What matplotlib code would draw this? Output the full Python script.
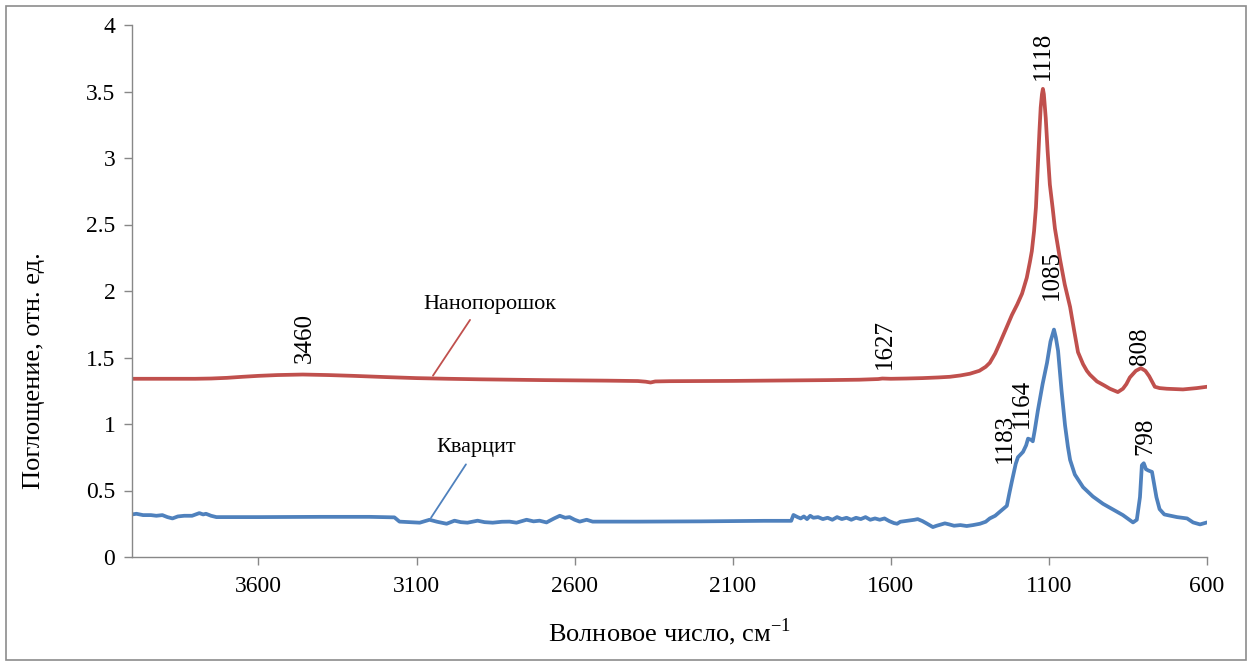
import matplotlib
matplotlib.use("Agg")
import matplotlib.pyplot as plt
from matplotlib.patches import Rectangle

plt.rcParams['font.family'] = ['Liberation Serif', 'DejaVu Serif']
plt.rcParams['mathtext.fontset'] = 'custom'
plt.rcParams['mathtext.rm'] = 'Liberation Serif'

# --- data -------------------------------------------------------------
nano_wn = [4000, 3900, 3800, 3750, 3700, 3650, 3600, 3540, 3460, 3380, 3300,
           3200, 3100, 3000, 2900, 2800, 2700, 2600, 2500, 2400, 2375, 2360,
           2345, 2300, 2200, 2100, 2000, 1900, 1800, 1700, 1640, 1627, 1600,
           1550, 1500, 1450, 1413, 1380, 1350, 1320, 1300, 1287, 1270, 1255,
           1235, 1217, 1200, 1185, 1170, 1160, 1154, 1147, 1141, 1135, 1130,
           1126, 1122, 1119, 1116, 1110, 1104, 1097, 1088, 1081, 1065, 1050,
           1033, 1020, 1008, 992, 980, 970, 948, 925, 907, 882, 866, 855,
           844, 825, 809, 795, 783, 774, 765, 750, 727, 676, 632, 600]
nano_ab = [1.340, 1.340, 1.340, 1.342, 1.347, 1.355, 1.362, 1.368, 1.372, 1.368,
           1.362, 1.353, 1.345, 1.340, 1.336, 1.333, 1.330, 1.328, 1.326, 1.323,
           1.318, 1.312, 1.320, 1.322, 1.323, 1.324, 1.326, 1.328, 1.330, 1.333,
           1.338, 1.342, 1.340, 1.342, 1.345, 1.350, 1.355, 1.365, 1.378, 1.40,
           1.43, 1.46, 1.53, 1.61, 1.72, 1.82, 1.90, 1.98, 2.10, 2.22, 2.30,
           2.45, 2.63, 2.94, 3.20, 3.38, 3.48, 3.52, 3.48, 3.30, 3.05, 2.80,
           2.62, 2.47, 2.24, 2.05, 1.88, 1.70, 1.54, 1.45, 1.40, 1.37, 1.32,
           1.29, 1.265, 1.24, 1.265, 1.30, 1.35, 1.40, 1.42, 1.40, 1.36, 1.32,
           1.28, 1.27, 1.265, 1.26, 1.27, 1.28]

quartz_wn = [4000, 3986, 3965, 3940, 3923, 3904, 3888, 3872, 3855, 3835, 3810,
             3787, 3775, 3766, 3750, 3733, 3600, 3400, 3250, 3170, 3154, 3120,
             3090, 3059, 3035, 3005, 2980, 2960, 2939, 2907, 2885, 2859, 2830,
             2806, 2784, 2752, 2730, 2711, 2689, 2665, 2647, 2630, 2616, 2600,
             2584, 2562, 2543, 2400, 2200, 2000, 1915, 1908, 1895, 1885, 1875,
             1865, 1855, 1845, 1830, 1815, 1800, 1785, 1770, 1755, 1740, 1725,
             1710, 1695, 1680, 1665, 1650, 1635, 1620, 1605, 1590, 1580, 1570,
             1555, 1540, 1525, 1515, 1500, 1485, 1467, 1455, 1440, 1429, 1415,
             1400, 1380, 1360, 1340, 1318, 1300, 1287, 1270, 1255, 1233, 1225,
             1217, 1205, 1198, 1182, 1172, 1166, 1155, 1151, 1145, 1135, 1120,
             1106, 1095, 1084, 1078, 1071, 1060, 1049, 1040, 1033, 1018, 992,
             961, 929, 885, 866, 834, 822, 812, 806, 800, 793, 785, 774, 768,
             760, 750, 735, 695, 663, 644, 622, 600]
quartz_ab = [0.320, 0.325, 0.315, 0.315, 0.310, 0.315, 0.300, 0.290, 0.305, 0.310,
             0.310, 0.330, 0.320, 0.325, 0.310, 0.300, 0.300, 0.302, 0.302, 0.298,
             0.266, 0.262, 0.258, 0.280, 0.265, 0.250, 0.273, 0.262, 0.258, 0.273,
             0.262, 0.258, 0.265, 0.266, 0.258, 0.280, 0.268, 0.273, 0.260, 0.290,
             0.310, 0.295, 0.300, 0.280, 0.266, 0.280, 0.266, 0.266, 0.268, 0.272,
             0.272, 0.316, 0.300, 0.290, 0.305, 0.285, 0.310, 0.295, 0.300, 0.285,
             0.295, 0.280, 0.300, 0.285, 0.295, 0.280, 0.295, 0.285, 0.300, 0.280,
             0.290, 0.280, 0.290, 0.270, 0.255, 0.250, 0.265, 0.270, 0.275, 0.280,
             0.285, 0.270, 0.250, 0.225, 0.235, 0.245, 0.253, 0.245, 0.235, 0.240,
             0.233, 0.240, 0.250, 0.265, 0.290, 0.310, 0.340, 0.385, 0.480,
             0.570, 0.700, 0.750, 0.790, 0.840, 0.890, 0.880, 0.870, 0.950, 1.100, 1.300,
             1.460, 1.620, 1.710, 1.650, 1.550, 1.250, 0.990, 0.830, 0.730, 0.620, 0.525,
             0.455, 0.400, 0.340, 0.315, 0.260, 0.280, 0.450, 0.690, 0.705, 0.660,
             0.650, 0.640, 0.560, 0.450, 0.360, 0.320, 0.300, 0.290, 0.260, 0.245,
             0.260]

x_ticks = [3600, 3100, 2600, 2100, 1600, 1100, 600]
y_ticks = [0, 0.5, 1, 1.5, 2, 2.5, 3, 3.5, 4]
y_tick_labels = ['0', '0.5', '1', '1.5', '2', '2.5', '3', '3.5', '4']

peak_labels = ['3460', '1627', '1118', '808', '1085', '1164', '1183', '798']
peak_text_x = [3454, 1619, 1119, 812, 1090, 1185, 1239, 796]
peak_text_y = [1.46, 1.41, 3.59, 1.44, 1.93, 0.97, 0.71, 0.77]

series_names = ['Нанопорошок', 'Кварцит']

# --- style ------------------------------------------------------------
RED = '#C0504D'
BLUE = '#4F81BD'
GRAY = '#888888'

fig = plt.figure(figsize=(12.52, 6.66), dpi=100)
fig.patches.append(Rectangle((6 / 1252, 1 - 660 / 666), 1240 / 1252, 654 / 666,
                             transform=fig.transFigure, fill=False,
                             edgecolor='#8C8C8C', linewidth=1.2))
ax = fig.add_axes([132 / 1252, 1 - 557 / 666, (1207 - 132) / 1252, (557 - 25) / 666])

ax.plot(nano_wn, nano_ab, color=RED, lw=2.7, solid_joinstyle='round',
        solid_capstyle='round')
ax.plot(quartz_wn, quartz_ab, color=BLUE, lw=2.7, solid_joinstyle='round',
        solid_capstyle='round')

ax.set_xlim(4000, 600)
ax.set_ylim(0, 4)
ax.set_xticks(x_ticks)
ax.set_xticklabels([str(t) for t in x_ticks])
ax.set_yticks(y_ticks)
ax.set_yticklabels(y_tick_labels)

for s in ['top', 'right']:
    ax.spines[s].set_visible(False)
for s in ['left', 'bottom']:
    ax.spines[s].set_color(GRAY)
    ax.spines[s].set_linewidth(1.0)
ax.tick_params(axis='both', direction='out', length=6, width=1.0, color=GRAY,
               labelsize=17, labelcolor='black')
ax.tick_params(axis='x', pad=7.5)
ax.tick_params(axis='y', pad=6)

ax.set_xlabel('Волновое число, см$^{\\mathregular{-1}}$', fontsize=19, labelpad=14)
ax.set_ylabel('Поглощение, отн. ед.', fontsize=19)
ax.yaxis.set_label_coords(-0.081, 0.35)

for lab, tx, ty in zip(peak_labels, peak_text_x, peak_text_y):
    ax.text(tx, ty, lab, rotation=90, ha='center', va='bottom', fontsize=18)

ax.text(2869, 1.895, series_names[0], ha='center', va='center', fontsize=16)
ax.annotate('', xy=(3053, 1.346), xytext=(2926, 1.80),
            arrowprops=dict(arrowstyle='-', color=RED, lw=1.3))
ax.text(2910, 0.827, series_names[1], ha='center', va='center', fontsize=16)
ax.annotate('', xy=(3059, 0.278), xytext=(2939, 0.714),
            arrowprops=dict(arrowstyle='-', color=BLUE, lw=1.3))

fig.savefig('out.png', dpi=100)
